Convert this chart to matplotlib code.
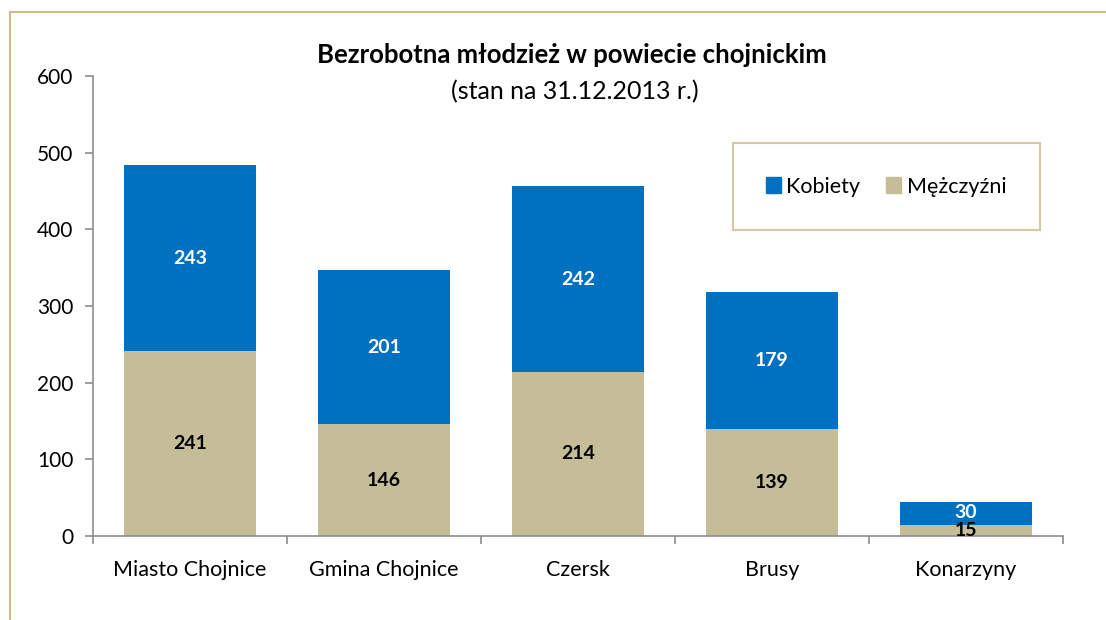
import matplotlib.pyplot as plt
import numpy as np
from matplotlib.lines import Line2D
from matplotlib.patches import Patch

plt.rcParams['font.family'] = ['Lato', 'DejaVu Sans']

categories = ['Miasto Chojnice', 'Gmina Chojnice', 'Czersk', 'Brusy', 'Konarzyny']
mezczyzni = [241, 146, 214, 139, 15]
kobiety = [243, 201, 242, 179, 30]

blue = '#0070C0'
tan = '#C4BD97'
border = '#C9BD8E'
axis_grey = '#8C8C8C'

fig = plt.figure(figsize=(11.06, 6.2), dpi=100)
ax = fig.add_axes([93 / 1106, 1 - 536 / 620, 970 / 1106, 460 / 620])

x = np.arange(len(categories))
w = 0.685
b1 = ax.bar(x, mezczyzni, w, color=tan, label='Mężczyźni')
b2 = ax.bar(x, kobiety, w, bottom=mezczyzni, color=blue, label='Kobiety')

for rect, v in zip(b1, mezczyzni):
    ax.text(rect.get_x() + rect.get_width() / 2, rect.get_height() / 2, str(v),
            ha='center', va='center', fontsize=14, fontweight='bold', color='black')
for rect, v, base in zip(b2, kobiety, mezczyzni):
    ax.text(rect.get_x() + rect.get_width() / 2, base + v / 2, str(v),
            ha='center', va='center', fontsize=14, fontweight='bold', color='white')

ax.set_xlim(-0.5, len(categories) - 0.5)
ax.set_ylim(0, 600)
ax.set_yticks(range(0, 601, 100))
ax.set_xticks(x)
ax.set_xticklabels(categories)
ax.set_xticks(np.arange(-0.5, len(categories)), minor=True)
ax.tick_params(axis='x', which='major', length=0, pad=17, labelsize=15.5)
ax.tick_params(axis='x', which='minor', length=6, color=axis_grey, width=1.2)
ax.tick_params(axis='y', length=6, color=axis_grey, width=1.2, labelsize=15, pad=8)

for s in ['top', 'right']:
    ax.spines[s].set_visible(False)
for s in ['left', 'bottom']:
    ax.spines[s].set_color(axis_grey)
    ax.spines[s].set_linewidth(1.2)

handles = [Patch(color=blue, label='Kobiety'), Patch(color=tan, label='Mężczyźni')]
leg = ax.legend(handles=handles, loc='upper right', bbox_to_anchor=(0.976, 0.854),
                ncol=2, fontsize=15.5, frameon=True, fancybox=False,
                handlelength=0.7, handleheight=0.7, handletextpad=0.25,
                columnspacing=1.2, borderpad=1.55, borderaxespad=0)
leg.get_frame().set_edgecolor(border)
leg.get_frame().set_linewidth(1.5)

fig.text(572 / 1106, 1 - 55 / 620, 'Bezrobotna młodzież w powiecie chojnickim',
         ha='center', va='center', fontsize=18.5, fontweight='bold')
fig.text(575 / 1106, 1 - 92 / 620, '(stan na 31.12.2013 r.)',
         ha='center', va='center', fontsize=18)

fig.add_artist(Line2D([10 / 1106, 10 / 1106], [0, 1 - 12 / 620], color=border, lw=1.5,
                      transform=fig.transFigure))
fig.add_artist(Line2D([10 / 1106, 1], [1 - 12 / 620, 1 - 12 / 620], color=border, lw=1.5,
                      transform=fig.transFigure))

fig.savefig('out.png', dpi=100)
